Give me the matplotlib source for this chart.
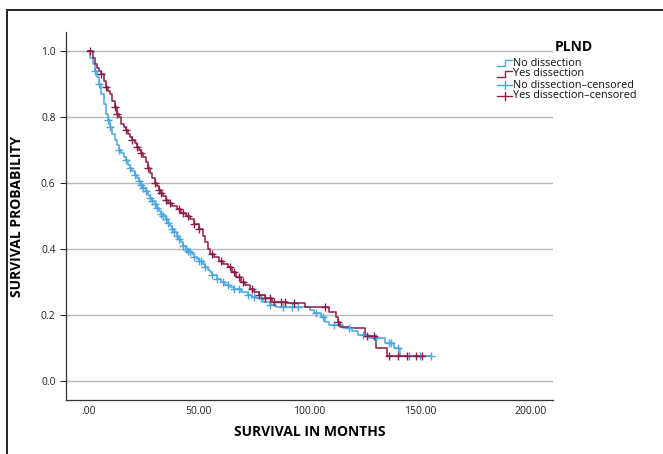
import numpy as np
import matplotlib
matplotlib.use("Agg")
import matplotlib.pyplot as plt
from matplotlib.lines import Line2D
from matplotlib.patches import Rectangle

plt.rcParams['font.family'] = ['Open Sans', 'DejaVu Sans']

# Kaplan-Meier steps: (months, survival after the step)
no_times = [0, 1, 2, 3, 4, 5, 6, 7, 8, 9, 10, 11, 12, 13, 14, 15, 16, 17, 18, 19,
            20, 21, 22, 23, 24, 25, 26, 27, 28, 29, 30, 31, 32, 33, 34, 35, 36, 37,
            38, 39, 40, 41, 42, 43, 44, 45, 46, 47, 48, 49, 50, 52, 53, 54, 55, 56,
            58, 60, 62, 64, 66, 69, 72, 74, 76, 79, 82, 85, 100, 102, 105, 107, 109,
            115, 119, 122, 127, 134, 138, 141, 155]
no_surv = [1.0, 0.98, 0.96, 0.94, 0.92, 0.90, 0.87, 0.84, 0.81, 0.79, 0.77, 0.75,
           0.73, 0.715, 0.70, 0.69, 0.68, 0.67, 0.655, 0.645, 0.635, 0.625, 0.615,
           0.605, 0.595, 0.585, 0.575, 0.565, 0.555, 0.545, 0.535, 0.525, 0.515,
           0.505, 0.50, 0.49, 0.48, 0.47, 0.46, 0.45, 0.44, 0.43, 0.42, 0.41, 0.40,
           0.395, 0.39, 0.385, 0.375, 0.37, 0.365, 0.355, 0.345, 0.335, 0.33, 0.32,
           0.31, 0.30, 0.29, 0.285, 0.28, 0.27, 0.26, 0.255, 0.25, 0.24, 0.23, 0.225,
           0.215, 0.205, 0.195, 0.18, 0.17, 0.16, 0.15, 0.14, 0.13, 0.115, 0.10,
           0.075, 0.075]
no_censored = [3, 5, 9, 10, 14, 17, 19, 21, 23, 24, 25, 26, 28, 29, 30, 31, 33, 34,
               35, 36, 38, 39, 40, 41, 43, 44, 45, 46, 48, 50, 51, 53, 56, 58, 61,
               63, 66, 68, 72, 75, 78, 82, 88, 92, 95, 103, 106, 111, 118, 124, 130,
               136, 137, 140, 145, 150, 155]

yes_times = [0, 2, 3, 4, 5, 6, 7, 8, 9, 10, 11, 12, 13, 14, 15, 16, 17, 18, 19, 20,
             21, 22, 23, 24, 25, 26, 27, 28, 29, 30, 31, 32, 33, 34, 35, 36, 38, 40,
             42, 44, 46, 48, 50, 52, 53, 54, 55, 57, 59, 61, 63, 65, 67, 69, 71, 73,
             75, 77, 80, 83, 90, 98, 109, 112, 113, 114, 118, 125, 130, 135, 151]
yes_surv = [1.0, 0.98, 0.96, 0.95, 0.94, 0.93, 0.91, 0.89, 0.88, 0.87, 0.85, 0.83,
            0.81, 0.80, 0.78, 0.77, 0.76, 0.75, 0.74, 0.73, 0.72, 0.71, 0.70, 0.69,
            0.68, 0.665, 0.645, 0.63, 0.615, 0.60, 0.59, 0.58, 0.57, 0.56, 0.55, 0.54,
            0.53, 0.52, 0.51, 0.50, 0.49, 0.475, 0.46, 0.44, 0.42, 0.40, 0.385, 0.375,
            0.365, 0.355, 0.345, 0.33, 0.315, 0.30, 0.29, 0.28, 0.27, 0.26, 0.25,
            0.24, 0.235, 0.225, 0.21, 0.195, 0.18, 0.165, 0.16, 0.135, 0.10, 0.075,
            0.075]
yes_censored = [1, 6, 8, 12, 13, 17, 20, 22, 24, 27, 30, 32, 33, 35, 37, 41, 43, 45,
                48, 50, 56, 60, 64, 66, 68, 70, 74, 77, 80, 82, 84, 87, 89, 93, 107,
                113, 126, 129, 136, 140, 144, 148, 151]

x_ticks = [0, 50, 100, 150, 200]
x_tick_labels = ['.00', '50.00', '100.00', '150.00', '200.00']
y_ticks = [0.0, 0.2, 0.4, 0.6, 0.8, 1.0]

BLUE = '#4aa6de'
RED = '#8c1c4a'
W, H = 663, 454


def surv_at(times, surv, t):
    idx = np.searchsorted(times, t, side='right') - 1
    return np.array(surv)[idx]


fig = plt.figure(figsize=(W / 100, H / 100), dpi=100)
ax = fig.add_axes([66 / W, 1 - 400 / H, (553 - 66) / W, (400 - 32) / H])

for times, surv, cens, col in [(no_times, no_surv, no_censored, BLUE),
                               (yes_times, yes_surv, yes_censored, RED)]:
    ax.step(times, surv, where='post', color=col, lw=1.1, zorder=3)
    ax.plot(cens, surv_at(times, surv, cens), '+', color=col, ms=6, mew=1.0,
            zorder=4)

ax.set_xlim(-10, 210)
ax.set_ylim(-0.0576, 1.0576)
ax.set_xticks(x_ticks)
ax.set_xticklabels(x_tick_labels)
ax.set_yticks(y_ticks)
ax.set_yticklabels(['%.1f' % v for v in y_ticks])
ax.yaxis.grid(True, color='#b8b8b8', lw=1.0)
ax.set_axisbelow(True)
for s in ['top', 'right']:
    ax.spines[s].set_visible(False)
for s in ['left', 'bottom']:
    ax.spines[s].set_color('#333333')
    ax.spines[s].set_linewidth(0.9)
ax.tick_params(axis='both', labelsize=7.5, colors='#222222', length=4, width=0.7)
ax.tick_params(axis='x', pad=4, length=0)
ax.set_xlabel('SURVIVAL IN MONTHS', fontsize=10, fontweight='bold', labelpad=6)
ax.set_ylabel('SURVIVAL PROBABILITY', fontsize=10, fontweight='bold', labelpad=12)

# legend drawn by hand, in figure pixel positions
def fx(px):
    return px / W


def fy(py):
    return 1 - py / H


fig.text(fx(555), fy(47), 'PLND', fontsize=10, fontweight='bold', va='center')
labels = ['No dissection', 'Yes dissection', 'No dissection\u2013censored',
          'Yes dissection\u2013censored']
rows = [63, 74, 85, 96]
for i, (lab, y) in enumerate(zip(labels, rows)):
    col = BLUE if i % 2 == 0 else RED
    if i < 2:
        xs = [497, 505, 505, 512]
        ys = [y + 3, y + 3, y - 3, y - 3]
    else:
        xs = [497, 512]
        ys = [y, y]
        fig.add_artist(Line2D([fx(505), fx(505)], [fy(y - 4), fy(y + 4)],
                              transform=fig.transFigure, color=col, lw=1.0))
    fig.add_artist(Line2D([fx(v) for v in xs], [fy(v) for v in ys],
                          transform=fig.transFigure, color=col, lw=1.0))
    fig.text(fx(513), fy(y), lab, fontsize=7.8, va='center', color='#111111')

# outer frame of the original output window
fig.add_artist(Rectangle((fx(7), -0.05), 1.1, fy(10) + 0.05, fill=False,
                         edgecolor='#222222', lw=1.4, transform=fig.transFigure))

fig.savefig('out.png', dpi=100)
